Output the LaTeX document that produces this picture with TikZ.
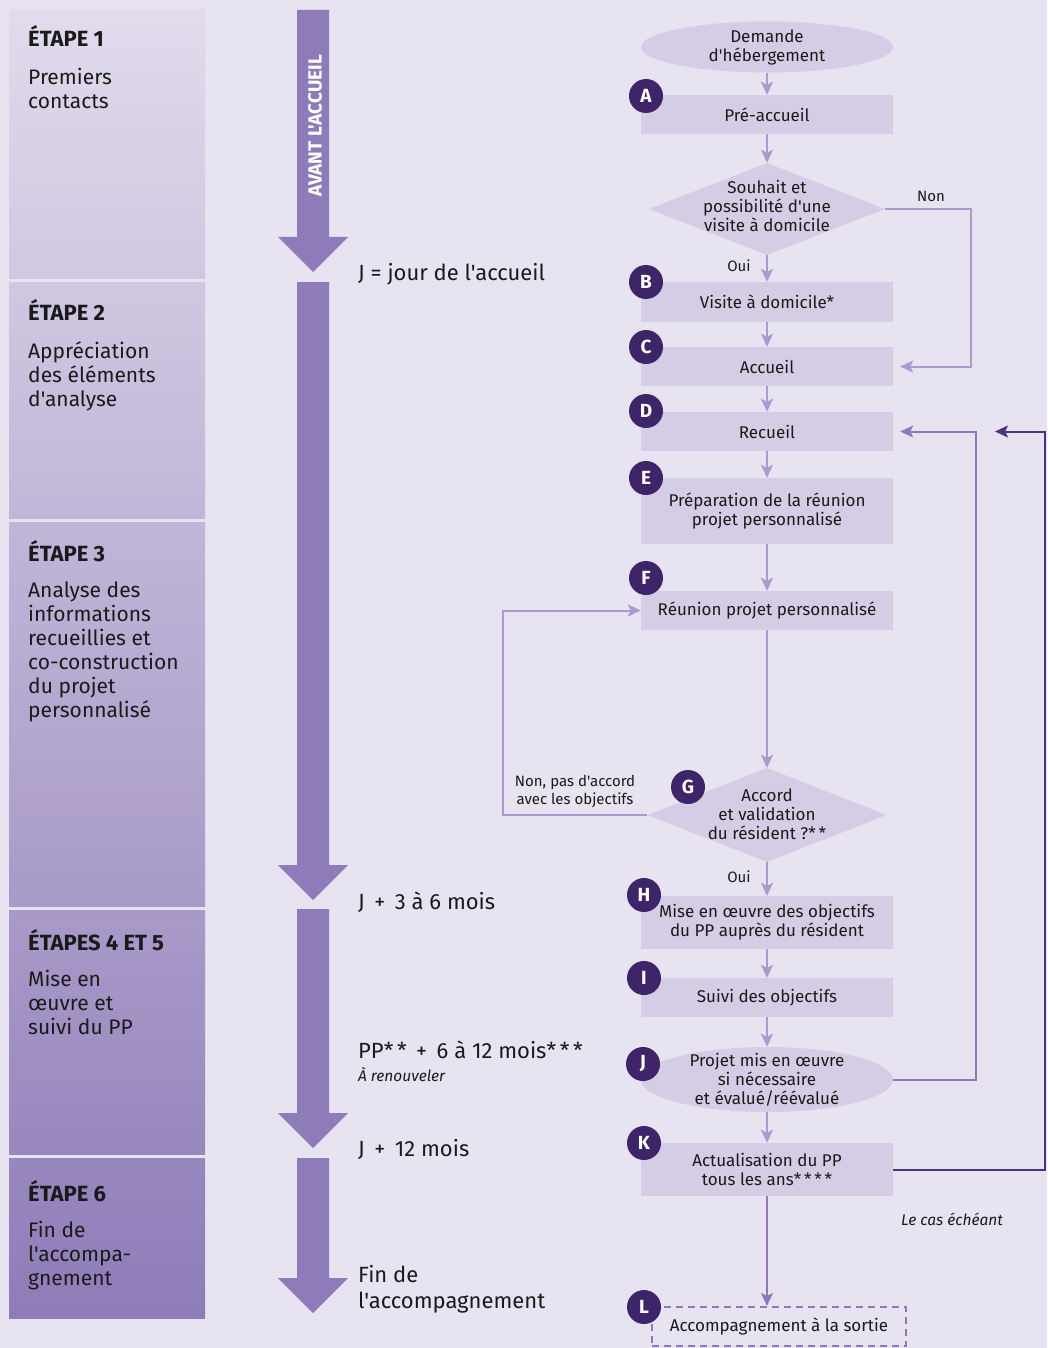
\documentclass[tikz,border=0pt]{standalone}
\usepackage{fontspec}
\setmainfont{Fira Sans}[Ligatures=TeXOff]
\usetikzlibrary{shapes.geometric,arrows.meta}
\definecolor{bgc}{HTML}{E7E3F0}
\definecolor{pTop}{HTML}{E1DBEC}
\definecolor{pBot}{HTML}{8E7CB8}
\definecolor{tlc}{HTML}{8E7BB9}
\definecolor{boxc}{HTML}{D5CDE6}
\definecolor{lightc}{HTML}{A99BCF}
\definecolor{midc}{HTML}{8F79BA}
\definecolor{darkc}{HTML}{4D3282}
\definecolor{circc}{HTML}{3E2468}
\definecolor{txt}{HTML}{1A1A1A}
\begin{document}
\begin{tikzpicture}[x=1pt,y=-1pt,
  stitle/.style={font=\fontsize{22}{24}\selectfont\bfseries, text=txt, inner sep=0, anchor=base west},
  stbody/.style={font=\fontsize{21}{24}\selectfont, text=txt, inner sep=0, anchor=north west, align=left},
  tlab/.style={font=\fontsize{22}{26}\selectfont, text=txt, inner sep=0, anchor=base west, align=left},
  box/.style={rectangle, fill=boxc, minimum width=252, minimum height=39, inner sep=0, font=\fontsize{17}{19}\selectfont, text=txt, align=center},
  ellnode/.style={ellipse, fill=boxc, minimum width=252, inner sep=0},
  dianode/.style={diamond, fill=boxc, inner sep=0},
  ntxt/.style={font=\fontsize{17}{19}\selectfont, text=txt, align=center, inner sep=0},
  small/.style={font=\fontsize{15}{18}\selectfont, text=txt, align=center, inner sep=0},
  letter/.style={circle, fill=circc, text=white, minimum size=34, inner sep=0, font=\fontsize{19}{19}\selectfont\bfseries},
  conn/.style={draw=lightc, line width=2, -{Stealth[width=12pt,length=13pt,inset=3pt]}},
  connmid/.style={draw=midc, line width=2, -{Stealth[width=12pt,length=13pt,inset=3pt]}},
  conndark/.style={draw=darkc, line width=2, -{Stealth[width=12pt,length=13pt,inset=3pt]}}
]
\useasboundingbox (0,0) rectangle (1047,1348);
\fill[bgc] (0,0) rectangle (1047,1348);

% left panels
\shade[top color=pBot!0!pTop, bottom color=pBot!20.5!pTop] (9,10) rectangle (205,278);
\shade[top color=pBot!20.8!pTop, bottom color=pBot!38.8!pTop] (9,282) rectangle (205,518);
\shade[top color=pBot!39.1!pTop, bottom color=pBot!68.5!pTop] (9,522) rectangle (205,906);
\shade[top color=pBot!68.8!pTop, bottom color=pBot!87.5!pTop] (9,910) rectangle (205,1154);
\shade[top color=pBot!87.8!pTop, bottom color=pBot!100!pTop] (9,1158) rectangle (205,1318);

\node[stitle] (s1t) at (28,47) {ÉTAPE 1};
\node[stbody] (s1b) at (28,68) {Premiers\\contacts};
\node[stitle] (s2t) at (28,320) {ÉTAPE 2};
\node[stbody] (s2b) at (28,341) {Appréciation\\des éléments\\d'analyse};
\node[stitle] (s3t) at (28,561) {ÉTAPE 3};
\node[stbody] (s3b) at (28,582) {Analyse des\\informations\\recueillies et\\co-construction\\du projet\\personnalisé};
\node[stitle] (s4t) at (28,950) {ÉTAPES 4 ET 5};
\node[stbody] (s4b) at (28,970) {Mise en\\œuvre et\\suivi du PP};
\node[stitle] (s6t) at (28,1201) {ÉTAPE 6};
\node[stbody] (s6b) at (28,1221) {Fin de\\l'accompa-\\gnement};

% timeline arrows
\fill[tlc] (297,10) -- (329,10) -- (329,237) -- (348,237) -- (313,272) -- (278,237) -- (297,237) -- cycle;
\fill[tlc] (297,282) -- (329,282) -- (329,865) -- (348,865) -- (313,900) -- (278,865) -- (297,865) -- cycle;
\fill[tlc] (297,909) -- (329,909) -- (329,1113) -- (348,1113) -- (313,1148) -- (278,1113) -- (297,1113) -- cycle;
\fill[tlc] (297,1158) -- (329,1158) -- (329,1278) -- (348,1278) -- (313,1313) -- (278,1278) -- (297,1278) -- cycle;
\node[rotate=90, text=white, font=\fontsize{19}{19}\selectfont\bfseries, inner sep=0] (avant) at (315,126) {AVANT L'ACCUEIL};

% timeline labels
\node[tlab] (t1) at (358,280) {J = jour de l'accueil};
\node[tlab] (t2) at (358,909) {J\, + \,3 à 6 mois};
\node[tlab] (t3) at (358,1058) {PP*\,*\, + \,6 à 12 mois*\,*\,*};
\node[inner sep=0, anchor=base west, font=\fontsize{15.5}{18}\selectfont\itshape, text=txt] (t3b) at (358,1081) {À renouveler};
\node[tlab] (t4) at (358,1156) {J\, + \,12 mois};
\node[tlab, anchor=north west] (t5) at (358,1265) {Fin de\\l'accompagnement};

% flow nodes
\node[ellnode, minimum height=51] (dem) at (767,47) {};
\node[ntxt] (demt) at (767,47) {Demande\\d'hébergement};
\node[box] (A) at (767,114.5) {Pré-accueil};
\node[dianode, minimum width=236, minimum height=92] (d1) at (767,209) {};
\node[ntxt] (d1t) at (767,206) {Souhait et\\possibilité d'une\\visite à domicile};
\node[box, minimum height=40] (B) at (767,302) {Visite à domicile*};
\node[box] (C) at (767,366.5) {Accueil};
\node[box] (D) at (767,431.5) {Recueil};
\node[box, minimum height=66] (E) at (767,511) {Préparation de la réunion\\projet personnalisé};
\node[box] (F) at (767,610.5) {Réunion projet personnalisé};
\node[dianode, minimum width=239, minimum height=94] (d2) at (767,815) {};
\node[ntxt] (d2t) at (767,814) {Accord\\et validation\\du résident ?*\,*};
\node[box, minimum height=53] (H) at (767,922.5) {Mise en œuvre des objectifs\\du PP auprès du résident};
\node[box] (I) at (767,997.5) {Suivi des objectifs};
\node[ellnode, minimum height=65] (J) at (767,1079.5) {};
\node[ntxt] (Jt) at (767,1080) {Projet mis en œuvre\\si nécessaire\\et évalué/réévalué};
\node[box, minimum height=53] (K) at (767,1169.5) {Actualisation du PP\\tous les ans*\,*\,*\,*};
\node[box, fill=none, draw=midc, line width=2, dash pattern=on 7pt off 5pt, minimum width=254] (L) at (779,1326.5) {Accompagnement à la sortie};

% letters
\node[letter] (lA) at (646,96) {A};
\node[letter] (lB) at (646,282) {B};
\node[letter] (lC) at (646,347) {C};
\node[letter] (lD) at (646,411) {D};
\node[letter] (lE) at (646,478) {E};
\node[letter] (lF) at (646,578) {F};
\node[letter] (lG) at (688,787) {G};
\node[letter] (lH) at (644,895) {H};
\node[letter] (lI) at (644,978) {I};
\node[letter] (lJ) at (643,1064) {J};
\node[letter] (lK) at (644,1143) {K};
\node[letter] (lL) at (644,1307) {L};

% labels
\node[small] (non) at (931,196) {Non};
\node[small] (oui1) at (739,266) {Oui};
\node[small] (oui2) at (739,877) {Oui};
\node[small] (nonpas) at (575,791) {Non, pas d'accord\\avec les objectifs};
\node[font=\fontsize{15.5}{18}\selectfont\itshape, text=txt, inner sep=0] (cas) at (952,1219) {Le cas échéant};

% connectors
\draw[conn] (dem) -- (A);
\draw[conn] (A) -- (d1);
\draw[conn] (d1) -- (B);
\draw[conn] (B) -- (C);
\draw[conn] (C) -- (D);
\draw[conn] (D) -- (E);
\draw[conn] (E) -- (F);
\draw[conn] (F) -- (d2);
\draw[conn] (d2) -- (H);
\draw[conn] (H) -- (I);
\draw[conn] (I) -- (J);
\draw[conn] (J) -- (K);
\draw[connmid] (K.south) -- (K.south |- L.north);

\coordinate (nonc) at (971,209);
\draw[conn, shorten >=7pt] (d1.east) -- (nonc) |- (C.east);
\coordinate (gc) at (503,815);
\draw[conn] (d2.west) -- (gc) |- (F.west);
\coordinate (jc) at (976,1079.5);
\draw[connmid, shorten >=7pt] (J.east) -- (jc) |- (D.east);
\coordinate (kc) at (1045,1169.5);
\coordinate (ktip) at (995,431.5);
\draw[conndark] (K.east) -- (kc) |- (ktip);
\end{tikzpicture}
\end{document}
